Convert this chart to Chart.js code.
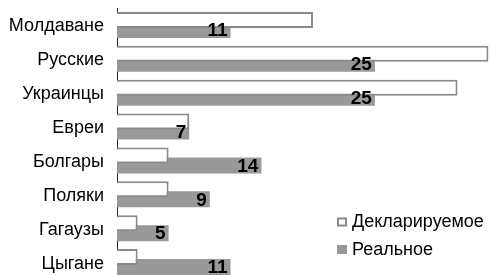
<!DOCTYPE html>
<html>
<head>
<meta charset="utf-8">
<script src="https://cdn.jsdelivr.net/npm/chart.js@4"></script>
<style>
  html, body { margin: 0; padding: 0; background: #fff; overflow: hidden; }
  #wrap { width: 491px; height: 279px; position: relative; }
</style>
</head>
<body>
<div id="wrap"><canvas id="chart"></canvas></div>
<script>
const categories = ['Молдаване', 'Русские', 'Украинцы', 'Евреи', 'Болгары', 'Поляки', 'Гагаузы', 'Цыгане'];
const declared = [19, 36, 33, 7, 5, 5, 2, 2];
const real = [11, 25, 25, 7, 14, 9, 5, 11];
const seriesNames = ['Декларируемое', 'Реальное'];

const FONT = '"Liberation Sans", Arial, sans-serif';

// numbers inside the grey bars
const valueLabels = {
  id: 'valueLabels',
  afterDatasetsDraw(chart) {
    const ctx = chart.ctx;
    const meta = chart.getDatasetMeta(1);
    ctx.save();
    ctx.font = 'bold 19px ' + FONT;
    ctx.fillStyle = '#000';
    ctx.textAlign = 'right';
    ctx.textBaseline = 'middle';
    meta.data.forEach((bar, i) => {
      ctx.fillText(String(real[i]), bar.x - 3, bar.y + 1);
    });
    ctx.restore();
  }
};

// legend sits inside the plot, bottom right
const boxLegend = {
  id: 'boxLegend',
  afterDraw(chart) {
    const ctx = chart.ctx;
    const x = 337, ys = [222, 249.5];
    ctx.save();
    ctx.font = '18px ' + FONT;
    ctx.textBaseline = 'middle';
    chart.data.datasets.forEach((ds, i) => {
      ctx.fillStyle = ds.backgroundColor;
      ctx.fillRect(x, ys[i] - 4.5, 10, 9);
      if (ds.borderWidth) {
        ctx.strokeStyle = ds.borderColor;
        ctx.lineWidth = 2;
        ctx.strokeRect(x + 1, ys[i] - 3.5, 8, 7);
      }
      ctx.fillStyle = '#000';
      ctx.fillText(ds.label, x + 15, ys[i] + 0.5);
    });
    ctx.restore();
  }
};

new Chart(document.getElementById('chart'), {
  type: 'bar',
  data: {
    labels: categories,
    datasets: [
      { label: seriesNames[0], data: declared, backgroundColor: '#ffffff', borderColor: '#8a8a8a', borderWidth: 2,
        categoryPercentage: 0.592, barPercentage: 1.6 },
      { label: seriesNames[1], data: real, backgroundColor: '#999999', borderWidth: 0,
        categoryPercentage: 0.592, barPercentage: 1.6 }
    ]
  },
  options: {
    indexAxis: 'y',
    responsive: true,
    maintainAspectRatio: false,
    animation: false,
    layout: { padding: { top: 8, bottom: 0, left: 0, right: 0 } },
    plugins: { legend: { display: false }, tooltip: { enabled: false } },
    scales: {
      x: { display: false, min: 0, max: 36.25 },
      y: {
        grid: { display: false, drawTicks: false },
        border: { display: true, color: '#222', width: 1 },
        ticks: { color: '#000', padding: 13, labelOffset: 1.5, font: { family: FONT, size: 18 } },
        afterFit(scale) {
          scale.width = 117;
          scale.paddingTop = 0;
          scale.paddingBottom = 0;
        }
      }
    }
  },
  plugins: [valueLabels, boxLegend]
});
</script>
</body>
</html>
